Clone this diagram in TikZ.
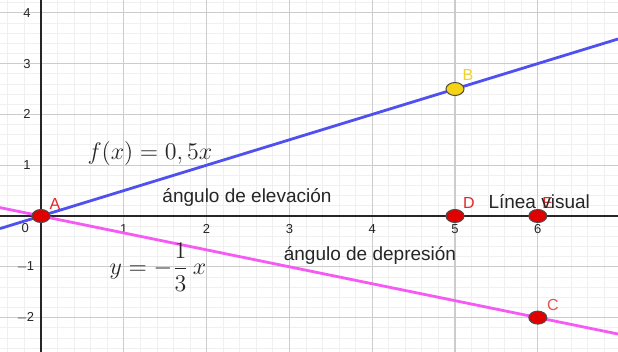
\documentclass[tikz,border=0pt]{standalone}
\usepackage{fontspec}
\setsansfont{Liberation Sans}
\usetikzlibrary{shapes.geometric}
\definecolor{lineblue}{RGB}{80,80,240}
\definecolor{linepink}{RGB}{245,90,245}
\definecolor{ptred}{RGB}{225,0,0}
\definecolor{ptyellow}{RGB}{245,210,20}
\definecolor{lblred}{RGB}{225,40,40}
\definecolor{lblyellow}{RGB}{240,210,40}
\begin{document}
\begin{tikzpicture}[x=41.4pt,y=25.4pt,
  minorgrid/.style={draw=black!6,line width=0.4pt},
  majorgrid/.style={draw=black!20,line width=0.6pt},
  axisline/.style={draw=black!85,line width=1pt},
  tick/.style={font=\sffamily\fontsize{6.5}{7}\selectfont,text=black!85,inner sep=0pt},
  pt/.style={ellipse,draw=black!70,line width=0.5pt,minimum width=9pt,minimum height=6.5pt,inner sep=0pt},
  ptlabel/.style={font=\sffamily\fontsize{8}{9}\selectfont,inner sep=0pt},
  txt/.style={font=\sffamily\fontsize{9.5}{11}\selectfont,text=black!85,inner sep=0pt},
  mathtxt/.style={font=\fontsize{13.2}{15}\selectfont,text=black!85,inner sep=0pt}]
\useasboundingbox[fill=white] (-0.4952,-2.677) rectangle (6.9686,4.252);
% grid
\foreach \i in {-2,...,34} \draw[minorgrid] (\i*0.2,-2.677) -- (\i*0.2,4.252);
\foreach \j in {-13,...,21} \draw[minorgrid] (-0.4952,\j*0.2) -- (6.9686,\j*0.2);
\foreach \i in {1,...,6} \draw[majorgrid] (\i,-2.677) -- (\i,4.252);
\foreach \j in {-2,-1,1,2,3,4} \draw[majorgrid] (-0.4952,\j) -- (6.9686,\j);
% axes
\draw[axisline] (-0.4952,0) -- (6.9686,0);
\draw[axisline] (0,-2.677) -- (0,4.252);
% tick labels
\foreach \i in {1,...,6} \node[tick] at (\i,-0.256) {\i};
\node[tick] at (-0.19,-0.24) {0};
\foreach \j in {4,3,2,1} \node[tick] at (-0.17,\j) {\j};
\foreach \j in {1,2} \node[tick] at (-0.19,-\j) {$-$\kern-0.5pt\j};
% lines
\draw[lineblue,line width=1.4pt] (-0.4952,-0.2476) -- (6.9686,3.4843);
\draw[linepink,line width=1.4pt] (-0.4952,0.16507) -- (6.9686,-2.32287);
% texts
\node[mathtxt] (f) at (1.316,1.240) {$f(x)=0,5x$};
\node[mathtxt] (g) at (1.413,-1.004) {$\displaystyle y=-\frac{1}{3}\,x$};
\node[txt] (elev) at (2.488,0.374) {ángulo de elevación};
\node[txt] (dep) at (3.973,-0.768) {ángulo de depresión};
% points
\node[pt,fill=ptred] (A) at (0,0) {};
\node[pt,fill=ptyellow] (B) at (5,2.5) {};
\node[pt,fill=ptred] (D) at (5,0) {};
\node[pt,fill=ptred] (E) at (6,0) {};
\node[pt,fill=ptred] (C) at (6,-2) {};
\node[ptlabel,text=lblred] at ([xshift=7pt,yshift=6pt]A.center) {A};
\node[ptlabel,text=lblyellow] at ([xshift=6.5pt,yshift=7pt]B.center) {B};
\node[ptlabel,text=lblred] at ([xshift=7pt,yshift=6.5pt]D.center) {D};
\node[ptlabel,text=lblred] at ([xshift=5pt,yshift=6.5pt]E.center) {E};
\node[ptlabel,text=lblred!80] at ([xshift=7.5pt,yshift=6.5pt]C.center) {C};
\node[txt,anchor=west] (vis) at (5.40,0.276) {Línea visual};
\end{tikzpicture}
\end{document}
